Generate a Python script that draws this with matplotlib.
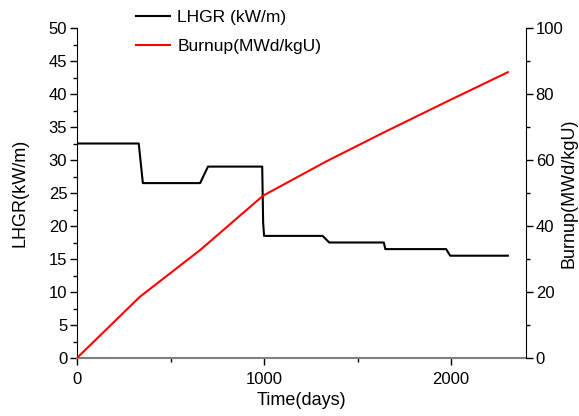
import matplotlib
matplotlib.use("Agg")
import matplotlib.pyplot as plt
from matplotlib.ticker import MultipleLocator

plt.rcParams["font.family"] = ["Liberation Sans", "DejaVu Sans"]

# LHGR history (days, kW/m)
lhgr_days = [0, 330, 352, 658, 700, 990, 995, 1000, 1313, 1348, 1640, 1648, 1973, 1995, 2303]
lhgr_vals = [32.5, 32.5, 26.5, 26.5, 29.0, 29.0, 20.5, 18.5, 18.5, 17.5, 17.5, 16.5, 16.5, 15.5, 15.5]

# burnup history (days, MWd/kgU)
bu_days = [0, 335, 660, 995, 1330, 1645, 1995, 2303]
bu_vals = [0.0, 18.5, 32.8, 49.2, 59.5, 68.5, 78.2, 86.6]

fig = plt.figure(figsize=(5.79, 4.16), dpi=100)
ax = fig.add_axes([77 / 579, 1 - 358 / 416, (526 - 77) / 579, (358 - 28) / 416])
ax2 = ax.twinx()

l1, = ax.plot(lhgr_days, lhgr_vals, color="black", lw=1.5, label="LHGR (kW/m)")
l2, = ax2.plot(bu_days, bu_vals, color="red", lw=1.5, label="Burnup(MWd/kgU)")

ax.set_xlim(0, 2400)
ax.set_ylim(0, 50)
ax2.set_ylim(0, 100)

ax.xaxis.set_major_locator(MultipleLocator(1000))
ax.xaxis.set_minor_locator(MultipleLocator(500))
ax.yaxis.set_major_locator(MultipleLocator(5))
ax.yaxis.set_minor_locator(MultipleLocator(2.5))
ax2.yaxis.set_major_locator(MultipleLocator(20))
ax2.yaxis.set_minor_locator(MultipleLocator(10))

for a in (ax, ax2):
    a.spines["top"].set_visible(False)
    a.tick_params(which="major", length=5, width=1, labelsize=12, direction="out", pad=2)
    a.tick_params(which="minor", length=3, width=1, direction="out")
ax2.spines["left"].set_visible(False)
ax2.spines["bottom"].set_visible(False)
ax.spines["right"].set_visible(False)
ax.spines["bottom"].set_color("#808080")
ax.spines["bottom"].set_linewidth(1.5)
ax.tick_params(axis="x", which="both", color="black", pad=5)

ax.set_xlabel("Time(days)", fontsize=13, labelpad=4)
ax.set_ylabel("LHGR(kW/m)", fontsize=13)
ax.yaxis.set_label_coords(-0.109, 0.5)
ax2.set_ylabel("Burnup(MWd/kgU)", fontsize=13)
ax2.yaxis.set_label_coords(1.076, 0.5)

fig.legend(handles=[l1, l2], loc="upper left", bbox_to_anchor=(126 / 579, 1.0),
           frameon=False, fontsize=12.5, handlelength=2.0, handletextpad=0.4,
           labelspacing=0.8, borderaxespad=0.15)

fig.savefig("out.png", dpi=100)
